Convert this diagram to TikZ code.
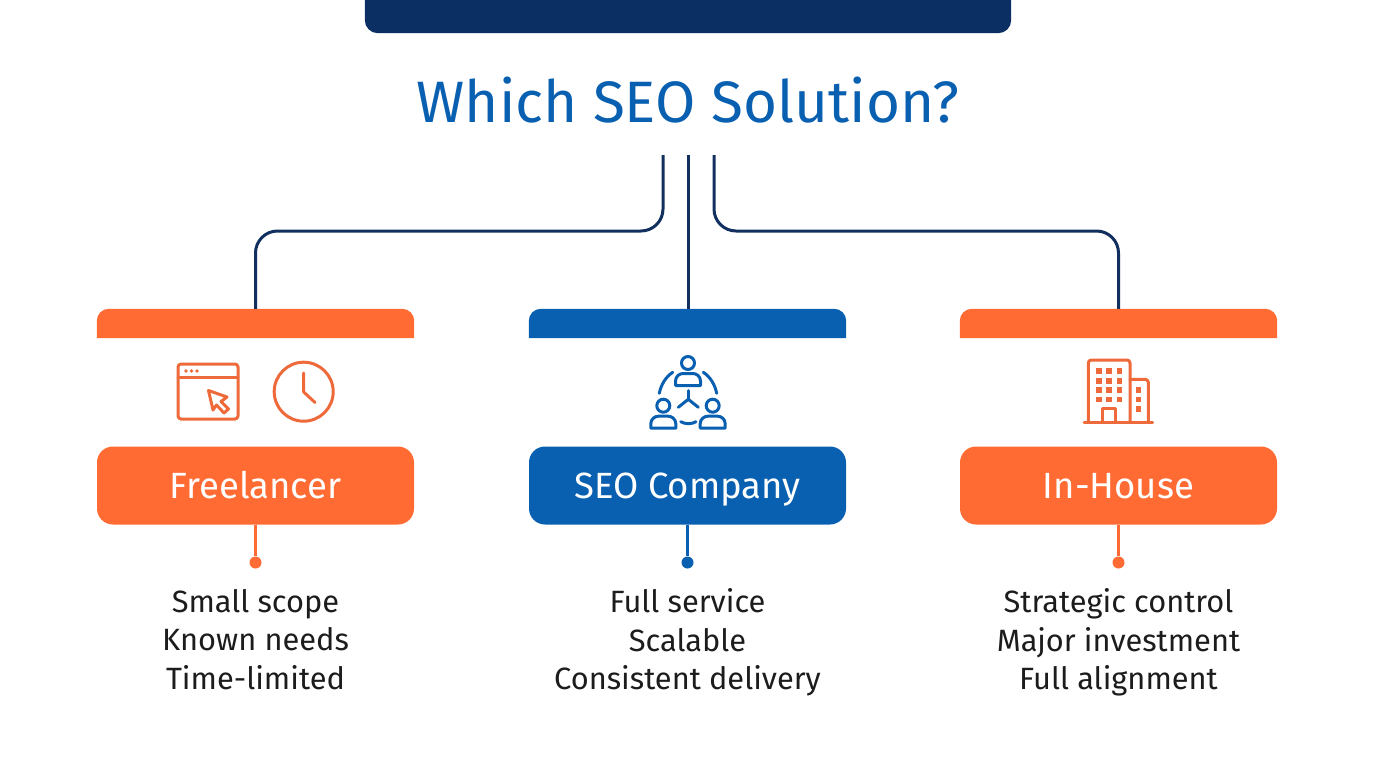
\documentclass[tikz,border=0pt]{standalone}
\usepackage{fontspec}
\setmainfont{Fira Sans}
\usetikzlibrary{positioning}

\definecolor{navy}{HTML}{0C2F63}
\definecolor{wirenavy}{HTML}{12305F}
\definecolor{brandblue}{HTML}{0A60B0}
\definecolor{brandorange}{HTML}{FF6B33}
\definecolor{iconorange}{HTML}{EE6A3A}
\definecolor{inktext}{HTML}{1C1C1C}

\tikzset{
    wire/.style={draw=wirenavy, line width=3pt, rounded corners=22pt},
    barbase/.style={minimum width=317pt, minimum height=29pt, inner sep=0pt},
    namebox/.style={minimum width=317pt, minimum height=78pt, inner sep=0pt, rounded corners=16pt,
        text=white, text height=29pt, text depth=4pt, font=\fontsize{36.5}{40}\selectfont},
    lines/.style={align=center, text=inktext, font=\fontsize{30.8}{38.5}\selectfont,
        execute at begin node=\strut, execute at end node=\strut},
    stemdot/.style={circle, inner sep=0pt, minimum size=12pt},
    icon/.style={line width=3pt, line cap=round, line join=round},
}

\begin{document}
\begin{tikzpicture}[x=1pt,y=-1pt,node distance=432pt,on grid]
    \useasboundingbox (0,0) rectangle (1376,768);

    % top bar and title
    \node[minimum width=646pt, minimum height=33pt, inner sep=0pt] (topbar) at (688,16.5) {};
    \fill[navy] (topbar.north west) [rounded corners=13pt] -- (topbar.south west) -- (topbar.south east) [sharp corners] -- (topbar.north east) -- cycle;
    \node[text=brandblue, font=\fontsize{58.4}{64}\selectfont] (title) at (688,100) {Which SEO Solution?};

    % header bars
    \node[barbase]             (hc) at (687.5,323.5) {};
    \node[barbase, left=of hc]  (hf) {};
    \node[barbase, right=431pt of hc] (hh) {};
    \foreach \n/\c in {hf/brandorange, hc/brandblue, hh/brandorange}
        \fill[\c] (\n.south west) [rounded corners=12pt] -- (\n.north west) -- (\n.north east) [sharp corners] -- (\n.south east) -- cycle;

    % name boxes
    \node[namebox, fill=brandorange, below=162pt of hf] (ff) {Freelancer};
    \node[namebox, fill=brandblue,   below=162pt of hc] (fc) {SEO Company};
    \node[namebox, fill=brandorange, below=162pt of hh] (fh) {In-House};

    % dots and text lines
    \node[stemdot, fill=brandorange, below=77pt of ff] (df) {};
    \node[stemdot, fill=brandblue,   below=77pt of fc] (dc) {};
    \node[stemdot, fill=brandorange, below=77pt of fh] (dh) {};
    \draw[brandorange, line width=3pt] (ff) -- (df);
    \draw[brandblue,   line width=3pt] (fc) -- (dc);
    \draw[brandorange, line width=3pt] (fh) -- (dh);

    \node[lines, below=82.5pt of df] (tf) {Small scope\\Known needs\\Time-limited};
    \node[lines, below=82.5pt of dc] (tc) {Full service\\Scalable\\Consistent delivery};
    \node[lines, below=82.5pt of dh] (th) {Strategic control\\Major investment\\Full alignment};

    % connectors
    \coordinate (sl) at (663,155);
    \coordinate (sc) at (688,155);
    \coordinate (sr) at (714,155);
    \coordinate (jl) at (255.5,231);
    \coordinate (jr) at (1118.5,231);
    \draw[wire] (sl) |- (jl) -- (hf.north);
    \draw[wire] (sc) -- (sc |- hc.north);
    \draw[wire] (sr) |- (jr) -- (hh.north);

    % window and clock
    \begin{scope}[icon, draw=iconorange]
        \draw[rounded corners=3pt] (178,364) rectangle (238,419);
        \draw (178,377) -- (238,377);
        \foreach \x in {186,191.5,197}
            \fill[iconorange] (\x,371) circle (1.8);
        \draw (208.5,390.5) -- (227,397) -- (221,401.5) -- (228.5,409) -- (224,413) -- (216.5,405) -- (213,410) -- cycle;
        \draw (303.7,391.7) circle (29.5);
        \draw (303.7,373) -- (303.7,392) -- (315,402.5);
    \end{scope}

    % people
    \begin{scope}[icon, draw=brandblue]
        \foreach \x/\y in {688/363, 663.3/405.7, 712.7/405.7} {
            \draw (\x,\y) circle (6.5);
            \draw (\x-12.5,\y+22.5) -- (\x-12.5,\y+18) .. controls (\x-12.5,\y+13) and (\x-8,\y+10.5) .. (\x-5,\y+10.5)
                -- (\x+5,\y+10.5) .. controls (\x+8,\y+10.5) and (\x+12.5,\y+13) .. (\x+12.5,\y+18)
                -- (\x+12.5,\y+22.5) -- cycle;
        }
        \draw (688.3,399.3) -- (688.3,390.7);
        \draw (688.3,399.3) -- (678.3,407.3);
        \draw (688.3,399.3) -- (698.3,407.3);
        \draw (672.7,372.3) .. controls (665.5,377) and (661,385) .. (659.3,393.3);
        \draw (703.3,372.3) .. controls (710.5,377) and (715,385) .. (716.7,393.3);
        \draw (680.7,421.7) .. controls (685,424.3) and (692,424.3) .. (696,421.7);
    \end{scope}

    % building
    \begin{scope}[icon, draw=iconorange]
        \draw[rounded corners=3pt] (1088.3,422) -- (1088.3,360) -- (1130,360) -- (1130,422);
        \draw[rounded corners=3pt] (1130,379.3) -- (1148.3,379.3) -- (1148.3,422);
        \draw (1084,422.3) -- (1152.7,422.3);
        \draw (1102.7,422) -- (1102.7,408.3) -- (1115,408.3) -- (1115,422);
        \foreach \x in {1098.7,1109,1119.3}
            \foreach \y in {371,380.7,390,399.3}
                \fill[iconorange] (\x-2.8,\y-2.8) rectangle (\x+2.8,\y+2.8);
        \foreach \y in {390,399.3,408.7}
            \fill[iconorange] (1138.3-2.8,\y-2.8) rectangle (1138.3+2.8,\y+2.8);
    \end{scope}
\end{tikzpicture}
\end{document}
